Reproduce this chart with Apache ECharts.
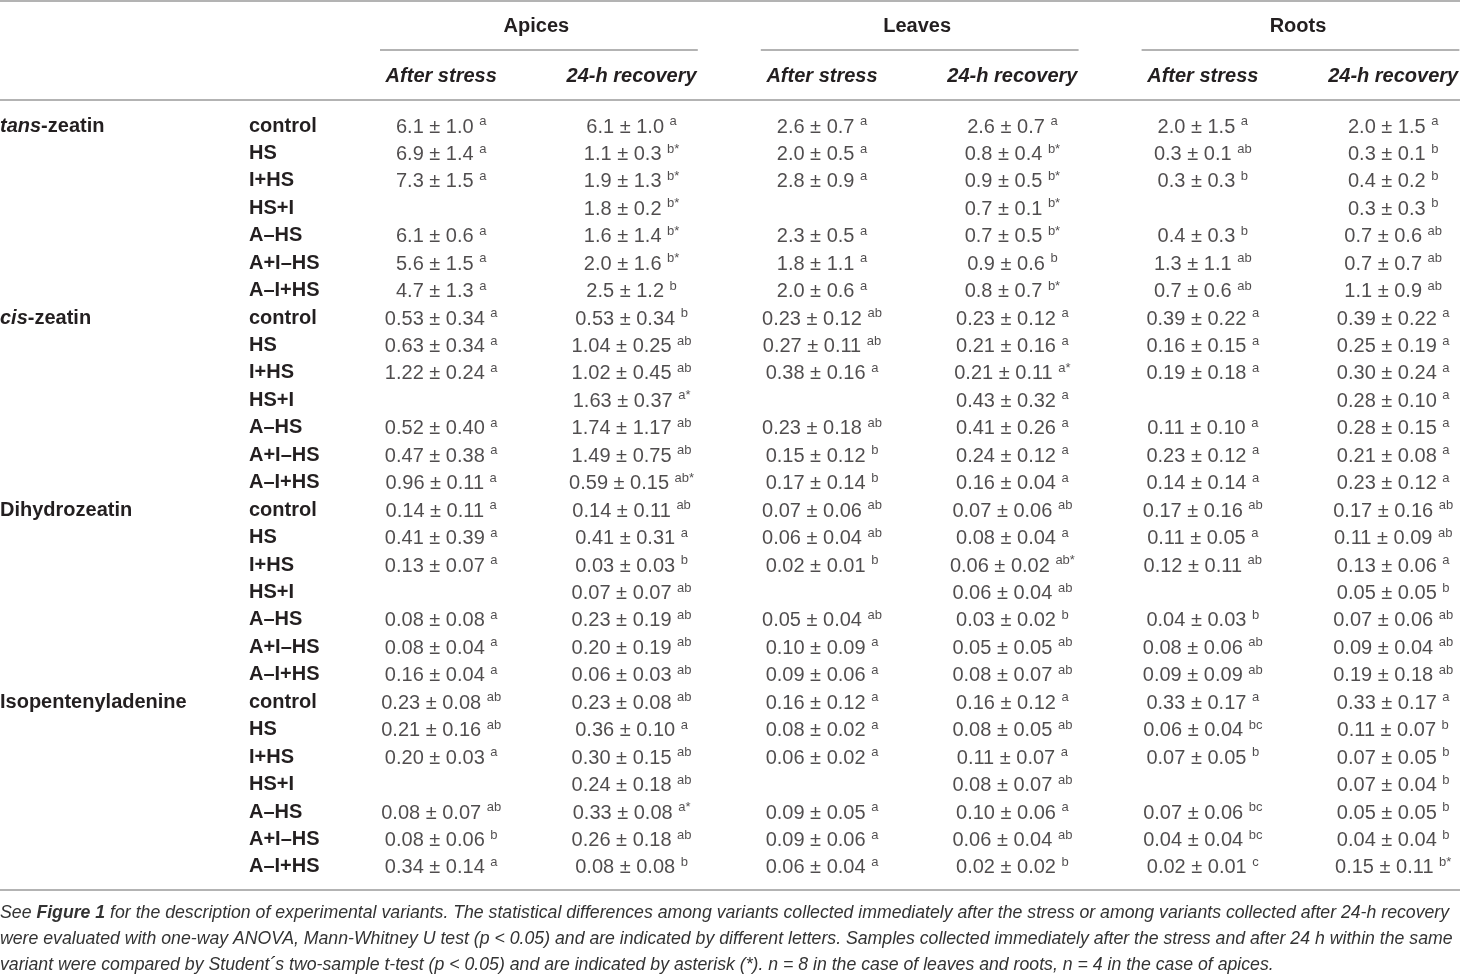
<!DOCTYPE html>
<html>
<head>
<meta charset="utf-8">
<title>Cytokinin content table</title>
<script src="https://cdn.jsdelivr.net/npm/echarts@6/dist/echarts.min.js"></script>
<style>
  html, body { margin: 0; padding: 0; background: #fff; }
  #chart { width: 1460px; height: 974px; }
</style>
</head>
<body>
<div id="chart"></div>
<script>
// row and column labels
const compounds = ["tans-zeatin", "cis-zeatin", "Dihydrozeatin", "Isopentenyladenine"];
const variants = ["control", "HS", "I+HS", "HS+I", "A–HS", "A+I–HS", "A–I+HS"];
const organs = ["Apices", "Leaves", "Roots"];
const phases = ["After stress", "24-h recovery"];

// cell values: "mean ± sd letters" (null = not measured)
const apicesStress = [
  "6.1 ± 1.0 a", "6.9 ± 1.4 a", "7.3 ± 1.5 a", null, "6.1 ± 0.6 a", "5.6 ± 1.5 a", "4.7 ± 1.3 a",
  "0.53 ± 0.34 a", "0.63 ± 0.34 a", "1.22 ± 0.24 a", null, "0.52 ± 0.40 a", "0.47 ± 0.38 a", "0.96 ± 0.11 a",
  "0.14 ± 0.11 a", "0.41 ± 0.39 a", "0.13 ± 0.07 a", null, "0.08 ± 0.08 a", "0.08 ± 0.04 a", "0.16 ± 0.04 a",
  "0.23 ± 0.08 ab", "0.21 ± 0.16 ab", "0.20 ± 0.03 a", null, "0.08 ± 0.07 ab", "0.08 ± 0.06 b", "0.34 ± 0.14 a"
];
const apicesRecovery = [
  "6.1 ± 1.0 a", "1.1 ± 0.3 b*", "1.9 ± 1.3 b*", "1.8 ± 0.2 b*", "1.6 ± 1.4 b*", "2.0 ± 1.6 b*", "2.5 ± 1.2 b",
  "0.53 ± 0.34 b", "1.04 ± 0.25 ab", "1.02 ± 0.45 ab", "1.63 ± 0.37 a*", "1.74 ± 1.17 ab", "1.49 ± 0.75 ab", "0.59 ± 0.15 ab*",
  "0.14 ± 0.11 ab", "0.41 ± 0.31 a", "0.03 ± 0.03 b", "0.07 ± 0.07 ab", "0.23 ± 0.19 ab", "0.20 ± 0.19 ab", "0.06 ± 0.03 ab",
  "0.23 ± 0.08 ab", "0.36 ± 0.10 a", "0.30 ± 0.15 ab", "0.24 ± 0.18 ab", "0.33 ± 0.08 a*", "0.26 ± 0.18 ab", "0.08 ± 0.08 b"
];
const leavesStress = [
  "2.6 ± 0.7 a", "2.0 ± 0.5 a", "2.8 ± 0.9 a", null, "2.3 ± 0.5 a", "1.8 ± 1.1 a", "2.0 ± 0.6 a",
  "0.23 ± 0.12 ab", "0.27 ± 0.11 ab", "0.38 ± 0.16 a", null, "0.23 ± 0.18 ab", "0.15 ± 0.12 b", "0.17 ± 0.14 b",
  "0.07 ± 0.06 ab", "0.06 ± 0.04 ab", "0.02 ± 0.01 b", null, "0.05 ± 0.04 ab", "0.10 ± 0.09 a", "0.09 ± 0.06 a",
  "0.16 ± 0.12 a", "0.08 ± 0.02 a", "0.06 ± 0.02 a", null, "0.09 ± 0.05 a", "0.09 ± 0.06 a", "0.06 ± 0.04 a"
];
const leavesRecovery = [
  "2.6 ± 0.7 a", "0.8 ± 0.4 b*", "0.9 ± 0.5 b*", "0.7 ± 0.1 b*", "0.7 ± 0.5 b*", "0.9 ± 0.6 b", "0.8 ± 0.7 b*",
  "0.23 ± 0.12 a", "0.21 ± 0.16 a", "0.21 ± 0.11 a*", "0.43 ± 0.32 a", "0.41 ± 0.26 a", "0.24 ± 0.12 a", "0.16 ± 0.04 a",
  "0.07 ± 0.06 ab", "0.08 ± 0.04 a", "0.06 ± 0.02 ab*", "0.06 ± 0.04 ab", "0.03 ± 0.02 b", "0.05 ± 0.05 ab", "0.08 ± 0.07 ab",
  "0.16 ± 0.12 a", "0.08 ± 0.05 ab", "0.11 ± 0.07 a", "0.08 ± 0.07 ab", "0.10 ± 0.06 a", "0.06 ± 0.04 ab", "0.02 ± 0.02 b"
];
const rootsStress = [
  "2.0 ± 1.5 a", "0.3 ± 0.1 ab", "0.3 ± 0.3 b", null, "0.4 ± 0.3 b", "1.3 ± 1.1 ab", "0.7 ± 0.6 ab",
  "0.39 ± 0.22 a", "0.16 ± 0.15 a", "0.19 ± 0.18 a", null, "0.11 ± 0.10 a", "0.23 ± 0.12 a", "0.14 ± 0.14 a",
  "0.17 ± 0.16 ab", "0.11 ± 0.05 a", "0.12 ± 0.11 ab", null, "0.04 ± 0.03 b", "0.08 ± 0.06 ab", "0.09 ± 0.09 ab",
  "0.33 ± 0.17 a", "0.06 ± 0.04 bc", "0.07 ± 0.05 b", null, "0.07 ± 0.06 bc", "0.04 ± 0.04 bc", "0.02 ± 0.01 c"
];
const rootsRecovery = [
  "2.0 ± 1.5 a", "0.3 ± 0.1 b", "0.4 ± 0.2 b", "0.3 ± 0.3 b", "0.7 ± 0.6 ab", "0.7 ± 0.7 ab", "1.1 ± 0.9 ab",
  "0.39 ± 0.22 a", "0.25 ± 0.19 a", "0.30 ± 0.24 a", "0.28 ± 0.10 a", "0.28 ± 0.15 a", "0.21 ± 0.08 a", "0.23 ± 0.12 a",
  "0.17 ± 0.16 ab", "0.11 ± 0.09 ab", "0.13 ± 0.06 a", "0.05 ± 0.05 b", "0.07 ± 0.06 ab", "0.09 ± 0.04 ab", "0.19 ± 0.18 ab",
  "0.33 ± 0.17 a", "0.11 ± 0.07 b", "0.07 ± 0.05 b", "0.07 ± 0.04 b", "0.05 ± 0.05 b", "0.04 ± 0.04 b", "0.15 ± 0.11 b*"
];

const footnote = [
  "See {fb|Figure 1} for the description of experimental variants. The statistical differences among variants collected immediately after the stress or among variants collected after 24-h recovery",
  "were evaluated with one-way ANOVA, Mann-Whitney U test (p < 0.05) and are indicated by different letters. Samples collected immediately after the stress and after 24 h within the same",
  "variant were compared by Student´s two-sample t-test (p < 0.05) and are indicated by asterisk (*). n = 8 in the case of leaves and roots, n = 4 in the case of apices."
];

const columns = [apicesStress, apicesRecovery, leavesStress, leavesRecovery, rootsStress, rootsRecovery];

const FONT = "'Liberation Sans', Arial, sans-serif";
const INK = "#231f20";
const RULE = "#9a9a9a";

const colKeys = [];
organs.forEach(o => phases.forEach(p => colKeys.push(o + "|" + p)));
const rowKeys = [];
compounds.forEach(c => variants.forEach(v => rowKeys.push(c + "|" + v)));

const compoundLabel = (name) => {
  if (name.startsWith("tans-")) return "{ci|tans}{cb|-zeatin}";
  if (name.startsWith("cis-")) return "{ci|cis}{cb|-zeatin}";
  return "{cb|" + name + "}";
};

const series = columns.map((col, ci) => ({
  type: "scatter",
  xAxisIndex: 0,
  yAxisIndex: 0,
  symbolSize: 1,
  silent: true,
  itemStyle: { color: "rgba(0,0,0,0)" },
  data: col.map((v, ri) => (v === null ? null : { value: [ci, ri], cell: v })).filter(d => d),
  label: {
    show: true,
    position: "inside",
    formatter: (p) => {
      const s = p.data.cell;
      const k = s.lastIndexOf(" ");
      return "{m|" + s.slice(0, k) + " }{s|" + s.slice(k + 1) + "}";
    },
    rich: {
      m: { fontFamily: FONT, fontSize: 20, color: INK, lineHeight: 22, verticalAlign: "bottom" },
      s: { fontFamily: FONT, fontSize: 13, color: INK, lineHeight: 10, verticalAlign: "top" }
    }
  }
}));

const chart = echarts.init(document.getElementById("chart"));

chart.setOption({
  backgroundColor: "#fff",
  animation: false,
  title: {
    left: 0,
    top: 900,
    padding: 0,
    text: footnote.join("\n"),
    textStyle: {
      fontFamily: FONT,
      fontSize: 17.7,
      fontStyle: "italic",
      fontWeight: "normal",
      color: "#333",
      lineHeight: 26,
      rich: {
        fb: { fontFamily: FONT, fontSize: 17.7, fontStyle: "italic", fontWeight: "bold", color: "#333", lineHeight: 26 }
      }
    }
  },
  grid: {
    left: 346, width: 1142.4, top: 112.3, bottom: 93.4,
    containLabel: false,
    outerBoundsMode: "none"
  },
  xAxis: [
    {
      type: "category",
      position: "top",
      data: colKeys,
      axisLine: { show: false },
      axisTick: { show: false },
      splitLine: { show: false },
      axisLabel: {
        interval: 0,
        margin: 36,
        verticalAlign: "middle",
        fontFamily: FONT,
        fontSize: 20,
        fontWeight: "bold",
        fontStyle: "italic",
        color: INK,
        formatter: (v) => v.split("|")[1]
      }
    },
    {
      type: "category",
      position: "top",
      data: organs,
      axisLine: { show: false },
      axisTick: { show: false },
      splitLine: { show: false },
      axisLabel: {
        interval: 0,
        margin: 86,
        verticalAlign: "middle",
        fontFamily: FONT,
        fontSize: 20,
        fontWeight: "bold",
        color: INK
      }
    }
  ],
  yAxis: [
    {
      type: "category",
      inverse: true,
      data: rowKeys,
      axisLine: { show: false },
      axisTick: { show: false },
      splitLine: { show: false },
      axisLabel: {
        interval: 0,
        margin: 97,
        align: "left",
        fontFamily: FONT,
        fontSize: 20,
        fontWeight: "bold",
        color: INK,
        formatter: (v) => v.split("|")[1]
      }
    },
    {
      type: "category",
      position: "left",
      inverse: true,
      data: rowKeys,
      axisLine: { show: false },
      axisTick: { show: false },
      splitLine: { show: false },
      axisLabel: {
        interval: 0,
        margin: 346,
        align: "left",
        formatter: (v, i) => (i % variants.length === 0 ? compoundLabel(v.split("|")[0]) : ""),
        rich: {
          ci: { fontFamily: FONT, fontSize: 20, fontWeight: "bold", fontStyle: "italic", color: INK },
          cb: { fontFamily: FONT, fontSize: 20, fontWeight: "bold", color: INK }
        }
      }
    }
  ],
  series: series
});

// table rules, placed from the axis positions
const drawRules = () => {
  const W = chart.getWidth();
  const xc = (i) => chart.convertToPixel({ xAxisIndex: 0 }, colKeys[i]);
  const yc = (i) => chart.convertToPixel({ yAxisIndex: 0 }, rowKeys[i]);
  const colW = xc(1) - xc(0);
  const y0 = yc(0), yLast = yc(rowKeys.length - 1);
  const hline = (x1, x2, y) => ({
    type: "line",
    shape: { x1: x1, y1: y, x2: x2, y2: y },
    style: { stroke: RULE, lineWidth: 1.5 },
    silent: true
  });
  const rules = [
    hline(0, W, Math.round(y0 - 125)),
    hline(0, W, Math.round(y0 - 26)),
    hline(0, W, Math.round(yLast + 23))
  ];
  organs.forEach((o, g) => {
    const left = xc(2 * g) - colW / 2 + 34;
    const right = Math.min(W, xc(2 * g + 1) + colW / 2 - 29);
    rules.push(hline(left, right, Math.round(y0 - 76)));
  });
  chart.setOption({ graphic: rules });
};
drawRules();
</script>
</body>
</html>
